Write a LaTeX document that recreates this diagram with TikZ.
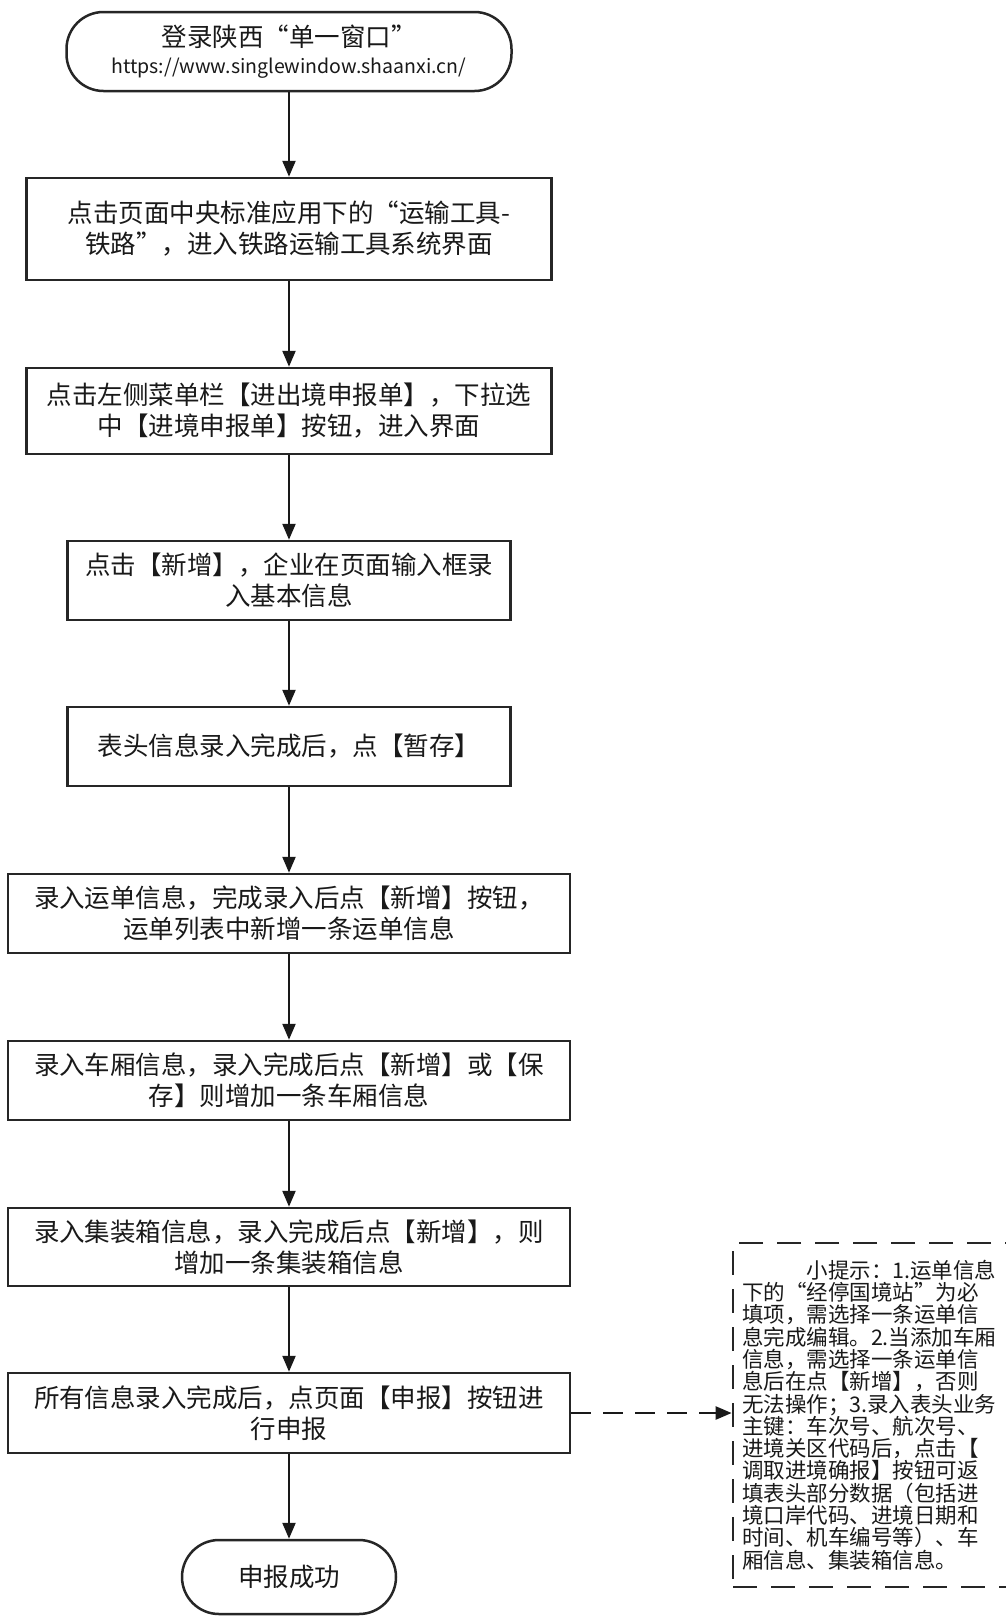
\documentclass[tikz,border=0pt]{standalone}
\usepackage{fontspec}
\setmainfont{Noto Sans CJK SC}
\usetikzlibrary{arrows.meta}
\begin{document}
\begin{tikzpicture}[x={(1pt,0pt)},y={(0pt,-1pt)},
  every node/.style={font=\fontsize{25.5}{31}\selectfont, text=black!90},
  procbox/.style={draw=black!85, line width=2.5pt, rectangle, align=center, inner sep=0pt},
  termbox/.style={draw=black!85, line width=2.5pt, rectangle, rounded corners=37pt, align=center, inner sep=0pt},
  flow/.style={draw=black!90, line width=2.3pt, -{Triangle[length=16pt,width=13pt]}},
  noteflow/.style={draw=black!90, line width=2.3pt, dash pattern=on 20pt off 12pt, -{Triangle[length=16pt,width=13pt]}},
  notebox/.style={draw=black!85, line width=2.7pt, dash pattern=on 24pt off 14pt, rectangle, align=left, inner xsep=9pt, inner ysep=0pt, font=\fontsize{21.5}{22.3}\selectfont}
]
\clip (0,0) rectangle (1006,1617);
\fill[white] (0,0) rectangle (1006,1617);

\node[termbox, minimum width=445pt, minimum height=79pt] (start) at (289,51.5)
  {登录陕西“单一窗口”\\[-4pt]{\fontsize{19.5}{22}\selectfont https://www.singlewindow.shaanxi.cn/}};
\node[procbox, minimum width=525pt, minimum height=102pt] (b2) at (289,229)
  {点击页面中央标准应用下的“运输工具-\\铁路”，进入铁路运输工具系统界面};
\node[procbox, minimum width=525pt, minimum height=86pt] (b3) at (289,411)
  {点击左侧菜单栏【进出境申报单】，下拉选\\中【进境申报单】按钮，进入界面};
\node[procbox, minimum width=443pt, minimum height=79pt] (b4) at (289,580.5)
  {点击【新增】，企业在页面输入框录\\入基本信息};
\node[procbox, minimum width=443pt, minimum height=79pt] (b5) at (289,746.5)
  {表头信息录入完成后，点【暂存】};
\node[procbox, minimum width=562pt, minimum height=79pt] (b6) at (289,913.5)
  {录入运单信息，完成录入后点【新增】按钮，\\运单列表中新增一条运单信息};
\node[procbox, minimum width=562pt, minimum height=79pt] (b7) at (289,1080.5)
  {录入车厢信息，录入完成后点【新增】或【保\\存】则增加一条车厢信息};
\node[procbox, minimum width=562pt, minimum height=78pt] (b8) at (289,1247)
  {录入集装箱信息，录入完成后点【新增】，则\\增加一条集装箱信息};
\node[procbox, minimum width=562pt, minimum height=80pt] (b9) at (289,1413)
  {所有信息录入完成后，点页面【申报】按钮进\\行申报};
\node[termbox, minimum width=214pt, minimum height=74pt] (end) at (289,1577)
  {申报成功};

\node[notebox, minimum width=278pt, minimum height=344pt, text width=262pt] (note) at (873,1415)
  {\hspace*{3em}小提示：1.运单信息\\
   下的“经停国境站”为必\\
   填项，需选择一条运单信\\
   息完成编辑。2.当添加车厢\\
   信息，需选择一条运单信\\
   息后在点【新增】，否则\\
   无法操作；3.录入表头业务\\
   主键：车次号、航次号、\\
   进境关区代码后，点击【\\
   调取进境确报】按钮可返\\
   填表头部分数据（包括进\\
   境口岸代码、进境日期和\\
   时间、机车编号等）、车\\
   厢信息、集装箱信息。};

\draw[flow] (start.south) -- (b2.north);
\draw[flow] (b2.south) -- (b3.north);
\draw[flow] (b3.south) -- (b4.north);
\draw[flow] (b4.south) -- (b5.north);
\draw[flow] (b5.south) -- (b6.north);
\draw[flow] (b6.south) -- (b7.north);
\draw[flow] (b7.south) -- (b8.north);
\draw[flow] (b8.south) -- (b9.north);
\draw[flow] (b9.south) -- (end.north);
\draw[noteflow] (b9.east) -- (b9.east -| note.west);
\end{tikzpicture}
\end{document}
